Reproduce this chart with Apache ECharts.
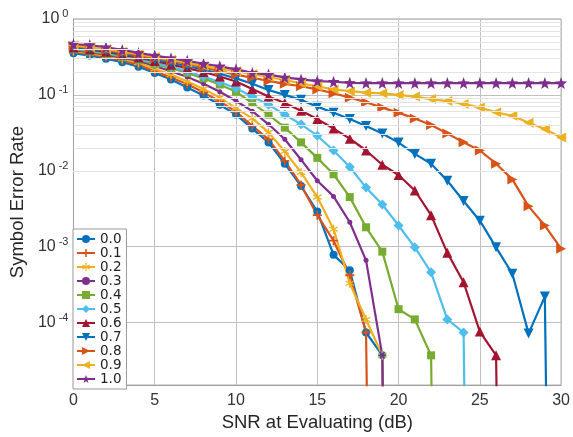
<!DOCTYPE html>
<html>
<head>
<meta charset="utf-8">
<script src="https://cdn.jsdelivr.net/npm/echarts@6/dist/echarts.min.js"></script>
<style>html,body{margin:0;padding:0;background:#fff}#c{width:573px;height:437px}</style>
</head>
<body>
<div id="c"></div>
<script>
// SNR (dB)
const snr = [0,1,2,3,4,5,6,7,8,9,10,11,12,13,14,15,16,17,18,19,20,21,22,23,24,25,26,27,28,29,30];
const legendNames = ['0.0','0.1','0.2','0.3','0.4','0.5','0.6','0.7','0.8','0.9','1.0'];
// Symbol error rate per series (0 = no errors observed -> drops off the log axis)
const ser00 = [0.355,0.33,0.30,0.27,0.235,0.195,0.16,0.125,0.098,0.074,0.055,0.036,0.0236,0.0124,0.0063,0.0029,0.00078,0.00049,7.4e-5,3.7e-5,0];
const ser01 = [0.37,0.345,0.315,0.285,0.25,0.205,0.17,0.138,0.108,0.082,0.06,0.039,0.026,0.0135,0.0065,0.0026,0.0012,0.00042,7.4e-5,0];
const ser02 = [0.38,0.355,0.33,0.30,0.265,0.22,0.185,0.15,0.12,0.092,0.067,0.049,0.032,0.018,0.0095,0.0045,0.0017,0.00033,1.1e-4,3.7e-5,0];
const ser03 = [0.39,0.365,0.34,0.31,0.28,0.24,0.205,0.172,0.14,0.11,0.083,0.061,0.041,0.026,0.014,0.0074,0.0046,0.0021,0.00066,3.7e-5,0];
const ser04 = [0.40,0.375,0.35,0.32,0.29,0.255,0.225,0.195,0.165,0.137,0.11,0.078,0.055,0.037,0.0237,0.0148,0.009,0.0045,0.0018,0.00086,0.00015,0.00011,3.7e-5,0];
const ser05 = [0.41,0.385,0.36,0.33,0.30,0.265,0.235,0.205,0.175,0.148,0.122,0.095,0.074,0.055,0.041,0.029,0.0185,0.0112,0.006,0.0036,0.0019,0.00098,0.00046,1.1e-4,7.4e-5,0];
const ser06 = [0.42,0.395,0.37,0.34,0.31,0.28,0.25,0.225,0.2,0.175,0.15,0.12,0.095,0.078,0.062,0.048,0.036,0.0265,0.0185,0.012,0.0088,0.0055,0.0026,0.00083,0.00034,7.6e-5,3.7e-5,0];
const ser07 = [0.43,0.405,0.38,0.35,0.32,0.29,0.265,0.24,0.215,0.19,0.165,0.14,0.116,0.1,0.086,0.07,0.058,0.048,0.039,0.031,0.0235,0.0167,0.0124,0.0074,0.004,0.0022,0.00098,0.00044,7.2e-5,2.2e-4,0];
const ser08 = [0.44,0.415,0.39,0.36,0.33,0.305,0.28,0.255,0.23,0.205,0.185,0.168,0.153,0.14,0.13,0.118,0.105,0.092,0.08,0.068,0.058,0.049,0.04,0.031,0.0237,0.0185,0.0124,0.0077,0.0034,0.0019,0.00094];
const ser09 = [0.45,0.425,0.40,0.37,0.345,0.315,0.29,0.265,0.24,0.22,0.205,0.188,0.172,0.157,0.142,0.13,0.118,0.112,0.107,0.105,0.1,0.095,0.088,0.083,0.076,0.068,0.059,0.053,0.043,0.0355,0.0275];
const ser10 = [0.465,0.454,0.424,0.391,0.357,0.33,0.305,0.281,0.257,0.238,0.217,0.195,0.185,0.17,0.16,0.152,0.149,0.144,0.143,0.143,0.143,0.143,0.143,0.143,0.143,0.143,0.143,0.143,0.143,0.143,0.143];
const yTickExponents = [0,-1,-2,-3,-4];
const xTicks = [0,5,10,15,20,25,30];

const allSeries = [ser00,ser01,ser02,ser03,ser04,ser05,ser06,ser07,ser08,ser09,ser10];
const colors = ['#0072BD','#D95319','#EDB120','#7E2F8E','#77AC30','#4DBEEE','#A2142F','#0072BD','#D95319','#EDB120','#7E2F8E'];
const PLUS = 'path://M-1,-5H1V-1H5V1H1V5H-1V1H-5V-1H-1Z';
const AST = 'path://M-0.7,-5H0.7V-1.2L4,-3.1 4.7,-1.9 1.4,0 4.7,1.9 4,3.1 0.7,1.2V5H-0.7V1.2L-4,3.1-4.7,1.9-1.4,0-4.7,-1.9-4,-3.1-0.7,-1.2Z';
const STAR = 'path://M0,-10L2.35,-3.24 9.51,-3.09 3.8,2.24 5.88,9.09 0,5 -5.88,9.09 -3.8,2.24 -9.51,-3.09 -2.35,-3.24Z';
const symbols = [
  {s:'circle', z:8, r:0},
  {s:PLUS, z:9, r:0},
  {s:AST, z:9, r:0},
  {s:'circle', z:5, r:0},
  {s:'rect', z:8, r:0},
  {s:'diamond', z:10, r:0},
  {s:'triangle', z:10, r:0},
  {s:'triangle', z:10, r:180},
  {s:'triangle', z:10, r:-90},
  {s:'triangle', z:10, r:90},
  {s:STAR, z:12, r:0}
];
const FONT = 'Liberation Sans, Arial, sans-serif';
const YMIN = 1.5e-5;

const series = allSeries.map((vals, k) => ({
  name: legendNames[k],
  type: 'line',
  data: vals.map((v, i) => [snr[i], v === 0 ? 1e-20 : v]),
  symbol: symbols[k].s,
  symbolSize: symbols[k].z,
  symbolRotate: symbols[k].r,
  lineStyle: {color: colors[k], width: 2.2},
  itemStyle: {color: colors[k], borderColor: colors[k], borderWidth: 0},
  color: colors[k],
  clip: true,
  z: 3
}));

// minor log gridlines
const minorVals = [];
for (let e = -5; e < 0; e++) {
  for (let m = 2; m <= 9; m++) {
    const v = m * Math.pow(10, e);
    if (v > YMIN) minorVals.push(v);
  }
}
series.push({
  name: '__grid', type: 'line', data: [], z: 1, silent: true,
  markLine: {
    silent: true, symbol: ['none','none'], label: {show: false},
    lineStyle: {color: '#e4e4e4', type: 'solid', width: 1},
    data: minorVals.map(v => ({yAxis: v})),
    animation: false
  }
});

const chart = echarts.init(document.getElementById('c'), null, {renderer: 'canvas'});
chart.setOption({
  animation: false,
  backgroundColor: '#fff',
  grid: {left: 67, right: 10, top: 19, bottom: 45, show: true, borderColor: '#a0a0a0', borderWidth: 1, backgroundColor: 'transparent'},
  legend: {
    data: legendNames,
    orient: 'vertical',
    left: 73, top: 229,
    padding: [3, 5, 3, 3],
    itemWidth: 18, itemHeight: 10, itemGap: 0,
    backgroundColor: '#fff', borderColor: '#999', borderWidth: 1, borderRadius: 0,
    textStyle: {fontFamily: 'DejaVu Sans', fontSize: 13.5, color: '#222', lineHeight: 13.7},
    z: 10
  },
  xAxis: {
    type: 'value', min: 0, max: 30, interval: 5,
    name: 'SNR at Evaluating (dB)', nameLocation: 'middle', nameGap: 24,
    nameTextStyle: {fontFamily: FONT, fontSize: 18.5, color: '#262626'},
    axisLine: {show: true, lineStyle: {color: '#a0a0a0'}},
    axisTick: {show: false},
    axisLabel: {fontFamily: FONT, fontSize: 16, color: '#333', margin: 7},
    splitLine: {show: true, lineStyle: {color: '#c0c0c0', width: 1}}
  },
  yAxis: {
    type: 'log', logBase: 10, min: YMIN, max: 1,
    name: 'Symbol Error Rate', nameLocation: 'middle', nameGap: 42,
    nameTextStyle: {fontFamily: FONT, fontSize: 18.5, color: '#262626'},
    axisLine: {show: true, lineStyle: {color: '#a0a0a0'}},
    axisTick: {show: false},
    axisLabel: {
      margin: 5,
      formatter: function (v) {
        const e = Math.log10(v);
        const r = Math.round(e);
        if (Math.abs(e - r) > 1e-6 || yTickExponents.indexOf(r) < 0) return '';
        return '{b|10}{s|' + (r === 0 ? '0' : String(r)) + '}';
      },
      rich: {
        b: {fontFamily: FONT, fontSize: 16, color: '#333'},
        s: {fontFamily: FONT, fontSize: 11, color: '#333', padding: [0, 0, 10, 3]}
      }
    },
    splitLine: {show: true, lineStyle: {color: '#c0c0c0', width: 1}}
  },
  series: series
});
</script>
</body>
</html>
